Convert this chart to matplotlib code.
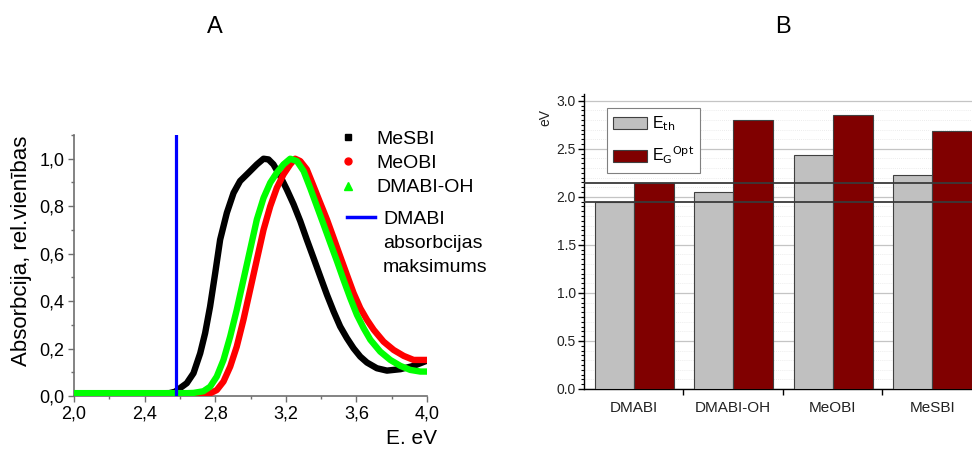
import matplotlib
matplotlib.use("Agg")
import matplotlib.pyplot as plt
import numpy as np
from matplotlib.lines import Line2D
from matplotlib.ticker import MultipleLocator, FuncFormatter

plt.rcParams['font.family'] = ['Liberation Sans', 'DejaVu Sans']

# ---- Panel A: normalised absorption spectra ----
mesbi_e = [2.000, 2.300, 2.540, 2.573, 2.639, 2.677, 2.715, 2.743, 2.771, 2.800, 2.828,
           2.866, 2.904, 2.941, 2.989, 3.036, 3.074, 3.102, 3.130, 3.168, 3.206, 3.244,
           3.282, 3.319, 3.357, 3.395, 3.433, 3.471, 3.508, 3.546, 3.584, 3.622, 3.660,
           3.716, 3.773, 3.849, 3.924, 4.000]
mesbi_a = [0.010, 0.010, 0.012, 0.018, 0.054, 0.096, 0.180, 0.265, 0.377, 0.518, 0.659,
           0.772, 0.856, 0.906, 0.941, 0.976, 1.000, 0.997, 0.976, 0.927, 0.870, 0.808,
           0.737, 0.659, 0.582, 0.504, 0.427, 0.356, 0.293, 0.244, 0.201, 0.166, 0.141,
           0.117, 0.107, 0.113, 0.127, 0.149]

meobi_e = [2.000, 2.400, 2.680, 2.715, 2.771, 2.809, 2.847, 2.885, 2.922, 2.960, 2.998,
           3.036, 3.074, 3.112, 3.149, 3.187, 3.225, 3.253, 3.282, 3.319, 3.357, 3.395,
           3.433, 3.471, 3.508, 3.546, 3.584, 3.622, 3.660, 3.698, 3.754, 3.811, 3.868,
           3.924, 4.000]
meobi_a = [0.004, 0.004, 0.004, 0.005, 0.011, 0.025, 0.061, 0.124, 0.208, 0.321, 0.448,
           0.575, 0.701, 0.800, 0.877, 0.934, 0.976, 1.000, 0.990, 0.955, 0.885, 0.814,
           0.744, 0.666, 0.589, 0.511, 0.434, 0.370, 0.321, 0.279, 0.229, 0.194, 0.169,
           0.152, 0.152]

dmabioh_e = [2.000, 2.400, 2.640, 2.677, 2.733, 2.771, 2.809, 2.847, 2.885, 2.922, 2.960,
             2.998, 3.036, 3.074, 3.112, 3.149, 3.187, 3.225, 3.263, 3.301, 3.338, 3.376,
             3.414, 3.452, 3.490, 3.527, 3.565, 3.603, 3.641, 3.679, 3.735, 3.792, 3.849,
             3.905, 3.962, 4.000]
dmabioh_a = [0.012, 0.012, 0.012, 0.013, 0.020, 0.039, 0.082, 0.152, 0.251, 0.363, 0.490,
             0.617, 0.744, 0.835, 0.899, 0.941, 0.976, 1.000, 0.990, 0.948, 0.877, 0.800,
             0.723, 0.645, 0.568, 0.490, 0.413, 0.342, 0.286, 0.237, 0.187, 0.152, 0.127,
             0.110, 0.103, 0.103]

dmabi_max_e = 2.58

# ---- Panel B: energies ----
compounds = ["DMABI", "DMABI-OH", "MeOBI", "MeSBI"]
e_th = [1.95, 2.045, 2.43, 2.225]
e_g_opt = [2.14, 2.795, 2.85, 2.68]

fig = plt.figure(figsize=(9.72, 4.49), dpi=100)

fig.text(215 / 972, 1 - 27 / 449, "A", ha="center", va="center", fontsize=17)
fig.text(783 / 972, 1 - 27 / 449, "B", ha="center", va="center", fontsize=17)

# Panel A
axA = fig.add_axes([74 / 972, 1 - 396 / 449, 353 / 972, 261 / 449])
spine_col = "#6e6e6e"
curve_kw = dict(lw=4.6, solid_capstyle="round", solid_joinstyle="round")
axA.plot(mesbi_e, mesbi_a, color="black", zorder=2, **curve_kw)
axA.plot(meobi_e, meobi_a, color="#ff0000", zorder=3, **curve_kw)
axA.plot(dmabioh_e, dmabioh_a, color="#00ff00", zorder=4, **curve_kw)
axA.axvline(dmabi_max_e, color="#0000ff", lw=2.3, zorder=5)

axA.set_xlim(2.0, 4.0)
axA.set_ylim(0.0, 1.1)
axA.xaxis.set_major_locator(MultipleLocator(0.4))
axA.xaxis.set_minor_locator(MultipleLocator(0.2))
axA.yaxis.set_major_locator(MultipleLocator(0.2))
axA.yaxis.set_minor_locator(MultipleLocator(0.1))
comma = FuncFormatter(lambda v, p: f"{v:.1f}".replace(".", ","))
axA.xaxis.set_major_formatter(comma)
axA.yaxis.set_major_formatter(comma)
for s in ("top", "right"):
    axA.spines[s].set_visible(False)
for s in ("left", "bottom"):
    axA.spines[s].set_color(spine_col)
    axA.spines[s].set_linewidth(1.2)
axA.tick_params(which="major", direction="out", length=4, width=1, color=spine_col,
                labelsize=13, pad=3)
axA.tick_params(which="minor", direction="out", length=2.5, width=1, color=spine_col)
axA.set_ylabel("Absorbcija, rel.vienības", fontsize=16)
axA.yaxis.set_label_coords(-0.119, 0.555)
axA.set_xlabel("E. eV", fontsize=15)
axA.xaxis.set_label_coords(0.955, -0.125)

marker_handles = [
    Line2D([], [], ls="none", marker="s", color="black", ms=5),
    Line2D([], [], ls="none", marker="o", color="#ff0000", ms=5),
    Line2D([], [], ls="none", marker="^", color="#00ff00", ms=6),
]
fig.legend(marker_handles, ["MeSBI", "MeOBI", "DMABI-OH"], loc="upper left",
           bbox_to_anchor=(342 / 972, 1 - 130 / 449), frameon=False,
           fontsize=14, handlelength=0.6, handletextpad=1.18,
           labelspacing=0.35, borderpad=0, borderaxespad=0)
fig.legend([Line2D([], [], color="#0000ff", lw=2.5)], ["DMABI"], loc="upper left",
           bbox_to_anchor=(347 / 972, 1 - 210 / 449), frameon=False,
           fontsize=14, handlelength=1.45, handletextpad=0.41,
           borderpad=0, borderaxespad=0)
fig.text(383 / 972, 1 - 243 / 449, "absorbcijas", fontsize=14, va="center", ha="left")
fig.text(383 / 972, 1 - 268 / 449, "maksimums", fontsize=14, va="center", ha="left")

# Panel B
axB = fig.add_axes([584 / 972, 1 - 389 / 449, 388 / 972, 295 / 449])
x = np.arange(len(compounds))
w = 0.39
axB.bar(x - w / 2, e_th, width=w, color="#c0c0c0", edgecolor="#404040", lw=0.8,
        zorder=3, label=r"E$_{\mathrm{th}}$")
axB.bar(x + 0.2, e_g_opt, width=0.4, color="#800000", edgecolor="#404040", lw=0.8,
        zorder=3, label=r"E$_{\mathrm{G}}$$^{\mathrm{Opt}}$")
# reference levels at the DMABI values
axB.axhline(e_g_opt[0], color="#3a3a3a", lw=1.3, zorder=4)
axB.axhline(e_th[0], color="#3a3a3a", lw=1.3, zorder=4)

axB.set_xlim(-0.5, 3.4)
axB.set_ylim(0, 3.07)
axB.yaxis.set_major_locator(MultipleLocator(0.5))
axB.yaxis.set_minor_locator(MultipleLocator(0.05))
axB.yaxis.set_major_formatter(FuncFormatter(lambda v, p: f"{v:.1f}"))
axB.set_xticks(x)
axB.set_xticklabels(compounds)
axB.set_xticks([0.5, 1.5, 2.5], minor=True)
axB.tick_params(axis="x", which="major", length=0, labelsize=11, pad=9, colors="#222222")
axB.tick_params(axis="x", which="minor", length=4, width=1, direction="out")
axB.tick_params(axis="y", which="major", length=4, width=1, direction="out",
                labelsize=10, pad=2, labelcolor="#222222")
axB.tick_params(axis="y", which="minor", length=2.5, width=0.8, direction="out")
for s in ("top", "right"):
    axB.spines[s].set_visible(False)
for s in ("left", "bottom"):
    axB.spines[s].set_color("black")
    axB.spines[s].set_linewidth(1.0)
axB.grid(axis="y", which="major", color="#c4c4c4", lw=0.9, zorder=0)
for v in np.arange(0.1, 3.05, 0.1):
    if abs(v / 0.5 - round(v / 0.5)) > 1e-6:
        axB.axhline(v, color="#e6e6e6", lw=0.6, ls=(0, (1, 1.5)), zorder=0)
axB.set_axisbelow(True)
axB.set_ylabel("eV", fontsize=10, color="#222222")
axB.yaxis.set_label_coords(-0.082, 0.922)

legB = axB.legend(loc="upper left", bbox_to_anchor=(0.059, 0.953), fontsize=11.5,
                  handlelength=2.1, handleheight=0.8, handletextpad=0.3,
                  labelspacing=0.75, borderpad=0.4, borderaxespad=0,
                  fancybox=False, framealpha=1, edgecolor="#808080")
legB.get_frame().set_linewidth(0.8)
legB.set_zorder(6)

fig.savefig("out.png", dpi=100)
